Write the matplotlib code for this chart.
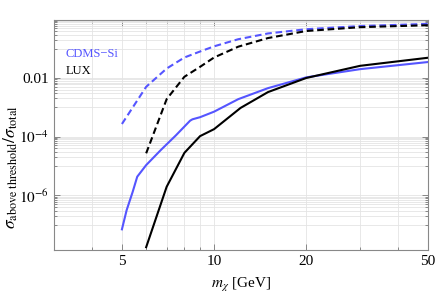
import numpy as np
import matplotlib
matplotlib.use('Agg')
import matplotlib.pyplot as plt
from matplotlib.ticker import FixedLocator, NullFormatter

plt.rcParams['font.family'] = 'Liberation Serif'
plt.rcParams['mathtext.fontset'] = 'stix'

# CDMS-Si, events above threshold (solid) and dashed curve
cdms_m = [5, 5.18, 5.42, 5.61, 6.0, 6.7, 7.5, 8.35, 8.5, 9, 10, 12, 15, 20, 30, 50]
cdms_solid = [6.9e-8, 3.1e-7, 1.3e-6, 4.3e-6, 1.07e-5, 3.5e-5, 1.1e-4, 3.5e-4,
              3.9e-4, 4.6e-4, 7.1e-4, 1.9e-3, 4.5e-3, 1.05e-2, 2.0e-2, 3.5e-2]
cdms_dm = [5, 6, 7, 8, 9, 10, 12, 15, 20, 30, 50]
cdms_dash = [2.7e-4, 5.0e-3, 2.1e-2, 5.0e-2, 8.0e-2, 0.12, 0.21, 0.33, 0.46, 0.59, 0.70]

# LUX
lux_m = [6, 7, 8, 9, 10, 12.2, 15, 20, 30, 50]
lux_solid = [1.7e-8, 1.95e-6, 2.8e-5, 1.04e-4, 1.8e-4, 9.5e-4, 3.3e-3, 1.0e-2, 2.6e-2, 4.9e-2]
lux_dm = [6, 7, 8, 9, 10, 12, 15, 20, 30, 50]
lux_dash = [2.7e-5, 1.9e-3, 1.1e-2, 2.4e-2, 5.0e-2, 0.117, 0.23, 0.40, 0.54, 0.63]

blue = '#5555ff'

fig = plt.figure(figsize=(4.36, 2.97), dpi=100)
ax = fig.add_axes([0.1239, 0.1582, 0.8578, 0.7745])

ax.plot(cdms_dm, cdms_dash, color=blue, lw=1.5, ls=(0, (3.2, 1.8)))
ax.plot(lux_dm, lux_dash, color='black', lw=1.5, ls=(0, (3.2, 1.8)))
ax.plot(cdms_m, cdms_solid, color=blue, lw=1.5)
ax.plot(lux_m, lux_solid, color='black', lw=1.5)

ax.set_xscale('log')
ax.set_yscale('log')
ax.set_xlim(3, 50)
ax.set_ylim(1.36e-8, 0.95)

# x ticks / grid
xmaj = [5, 10, 20, 50]
xmin = [3, 4, 6, 7, 8, 9, 30, 40]
ax.xaxis.set_major_locator(FixedLocator(xmaj))
ax.xaxis.set_minor_locator(FixedLocator(xmin))
ax.set_xticklabels(['5', '10', '20', '50'])
ax.xaxis.set_minor_formatter(NullFormatter())

# y ticks / grid: majors every two decades, minors in the odd decades
ymaj = [1e-8, 1e-6, 1e-4, 1e-2, 1.0]
ymin = [k * 10.0**e for e in (-7, -5, -3, -1) for k in range(1, 10)]
ax.yaxis.set_major_locator(FixedLocator(ymaj))
ax.yaxis.set_minor_locator(FixedLocator(ymin))
ax.set_yticklabels(['', r'$10^{-6}$', r'$10^{-4}$', '0.01', ''])
ax.yaxis.set_minor_formatter(NullFormatter())

ax.grid(True, which='both', color='#e4e4e4', lw=0.6)
ax.set_axisbelow(True)
ax.tick_params(which='both', direction='in', top=True, right=True, labelsize=11,
               color='#777777', width=0.6)
ax.tick_params(which='major', length=4)
ax.tick_params(which='minor', length=2)
for s in ax.spines.values():
    s.set_color('#888888')
    s.set_linewidth(0.8)

ax.set_xlabel(r'$m_\chi$ [GeV]', fontsize=11, labelpad=6)
ax.set_ylabel(r'$\sigma_{\rm above\ threshold}/\sigma_{\rm total}$', fontsize=12.5, labelpad=0)
ax.yaxis.set_label_coords(-0.09, 0.36)

ax.text(0.03, 0.852, 'CDMS\u2212Si', color=blue, fontsize=9, transform=ax.transAxes, va='center')
ax.text(0.03, 0.778, 'LUX', color='black', fontsize=9, transform=ax.transAxes, va='center')

fig.savefig('out.png', dpi=100)
